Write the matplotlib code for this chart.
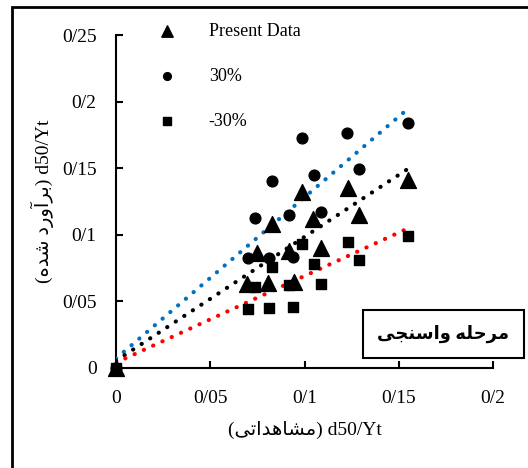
import numpy as np
import matplotlib.pyplot as plt
from matplotlib.patches import Rectangle

plt.rcParams['font.family'] = ['Liberation Serif', 'DejaVu Sans']

# observed / estimated d50/Yt
present_x = [0, 0.0696, 0.0746, 0.0807, 0.083, 0.0917, 0.0945, 0.0986, 0.1045, 0.109, 0.123, 0.129, 0.155]
present_y = [0, 0.063, 0.086, 0.0635, 0.108, 0.088, 0.0648, 0.132, 0.112, 0.0898, 0.1355, 0.115, 0.1415]
plus_x = [0, 0.0702, 0.0738, 0.081, 0.0829, 0.0917, 0.094, 0.0988, 0.105, 0.1087, 0.1228, 0.129, 0.155]
plus_y = [0, 0.0823, 0.1123, 0.0828, 0.1405, 0.1145, 0.0835, 0.1728, 0.145, 0.117, 0.1765, 0.1497, 0.184]
minus_x = [0, 0.0698, 0.074, 0.081, 0.0829, 0.092, 0.094, 0.0988, 0.105, 0.109, 0.123, 0.129, 0.155]
minus_y = [0, 0.0443, 0.0605, 0.0448, 0.076, 0.062, 0.0455, 0.093, 0.078, 0.063, 0.0948, 0.081, 0.099]

xticks = [0, 0.05, 0.1, 0.15, 0.2]
xlabels = ['0', '0/05', '0/1', '0/15', '0/2']
yticks = [0, 0.05, 0.1, 0.15, 0.2, 0.25]
ylabels = ['0', '0/05', '0/1', '0/15', '0/2', '0/25']

# persian text, pre-shaped (presentation forms, visual order)
fa_x = '\ufef0\ufe97\ufe8d\ufeaa\ufeeb\ufe8e\ufeb8\ufee3'
fa_y = '\ufee9\ufeaa\ufeb7 \ufea9\ufead\ufeed\ufe81\ufeae\ufe91'
fa_box = '\ufef0\ufea0\ufee8\ufeb3\ufe8d\ufeed \ufeea\ufee0\ufea3\ufeae\ufee3'

fig = plt.figure(figsize=(5.28, 4.68), dpi=100)
ax = fig.add_axes([116 / 528, 1 - 368 / 468, 377 / 528, 333 / 468])

# trendlines
for xs, ys, c in [(plus_x, plus_y, '#0070C0'), (present_x, present_y, 'black'), (minus_x, minus_y, 'red')]:
    p = np.polyfit(xs, ys, 1)
    xx = np.array([0, max(xs)])
    ax.plot(xx, np.polyval(p, xx), linestyle=(0, (0.05, 2.4)), color=c, lw=3,
            dash_capstyle='round', zorder=2)

ax.scatter(minus_x, minus_y, marker='s', s=60, color='black', label='-30%', zorder=3, clip_on=False)
ax.scatter(plus_x, plus_y, marker='o', s=60, color='black', label='30%', zorder=3, clip_on=False)
ax.scatter(present_x, present_y, marker='^', s=130, color='black', label='Present Data', zorder=4,
           clip_on=False)

ax.set_xlim(0, 0.2)
ax.set_ylim(0, 0.25)
ax.set_xticks(xticks)
ax.set_xticklabels(xlabels)
ax.set_yticks(yticks)
ax.set_yticklabels(ylabels)
ax.tick_params(direction='in', length=5, width=1.5, labelsize=14)
ax.tick_params(axis='x', pad=16)
ax.tick_params(axis='y', pad=14)
ax.spines['top'].set_visible(False)
ax.spines['right'].set_visible(False)
ax.spines['left'].set_linewidth(1.5)
ax.spines['bottom'].set_linewidth(1.5)
for s in ['left', 'bottom']:
    ax.spines[s].set_zorder(1)

ax.set_xlabel('(' + fa_x + ') d50/Yt', fontsize=14, labelpad=10)
ax.set_ylabel('(' + fa_y + ') d50/Yt', fontsize=14, labelpad=6)

h, l = ax.get_legend_handles_labels()
ax.legend(h[::-1], l[::-1], loc='upper left', bbox_to_anchor=(0.045, 1.085), frameon=False,
          fontsize=13, labelspacing=1.55, handletextpad=1.3, markerscale=0.72)

ax.text(0.868, 0.102, fa_box, transform=ax.transAxes, ha='center', va='center',
        fontsize=13, fontweight='bold',
        bbox=dict(boxstyle='square,pad=0.8', fc='white', ec='black', lw=1.5))

fig.patches.append(Rectangle((12 / 528, -0.1), 1.2, 1 - 7.5 / 468 + 0.1, transform=fig.transFigure,
                             fill=False, ec='black', lw=2))

fig.savefig('out.png', dpi=100)
